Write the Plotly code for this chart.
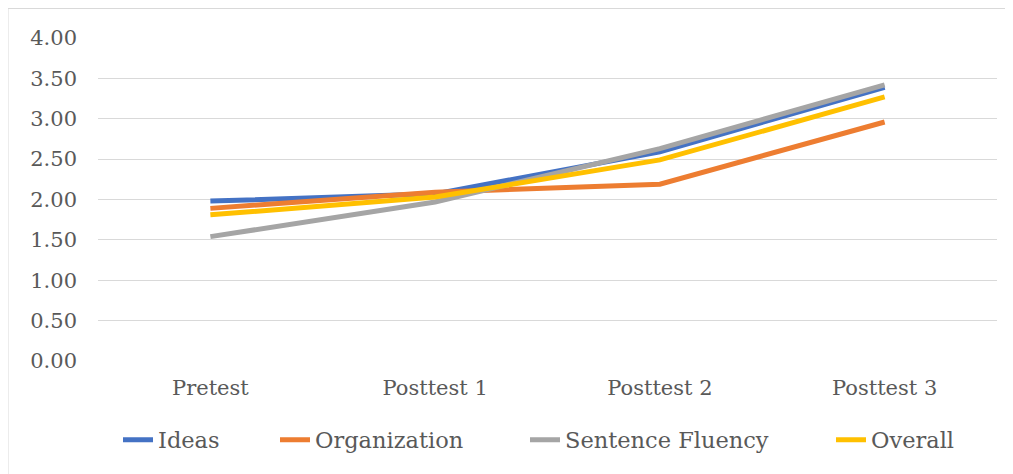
import plotly.graph_objects as go

categories = ["Pretest", "Posttest 1", "Posttest 2", "Posttest 3"]
ideas = [1.98, 2.07, 2.59, 3.39]
organization = [1.89, 2.09, 2.19, 2.96]
sentence_fluency = [1.54, 1.97, 2.63, 3.42]
overall = [1.81, 2.03, 2.49, 3.27]

series = [
    ("Ideas", ideas, "#4472C4"),
    ("Organization", organization, "#ED7D31"),
    ("Sentence Fluency", sentence_fluency, "#A5A5A5"),
    ("Overall", overall, "#FFC000"),
]

FONT = "DejaVu Serif"
FS = 21
LFS = 22.5
TXT = "#595959"
W, H = 1013, 474
# page has an 8px body offset; plot area wanted at page (98..997, 38..361)
OFF = 8
L, R, T, B = 98 - OFF, W - (997 - OFF), 38 - OFF, H - (361 - OFF)
pw = W - L - R
ph = H - T - B

legend_text_start = [158, 315, 565, 871]  # page x where legend labels begin
LEG_Y = 440

fig = go.Figure()
legend_names = ["legend", "legend2", "legend3", "legend4"]
for (name, vals, col), lg in zip(series, legend_names):
    fig.add_trace(go.Scatter(x=categories, y=vals, name=name, mode="lines",
                             line=dict(color=col, width=5), legend=lg))

fig.add_shape(type="rect", xref="paper", yref="paper",
              x0=(8 - OFF - L) / pw, x1=(1006 - OFF - L) / pw,
              y0=(H - B - 490) / ph, y1=(H - B - (8.5 - OFF)) / ph,
              line=dict(color="#D9D9D9", width=1), fillcolor="rgba(0,0,0,0)", layer="below")

legends = {}
for lg, xs in zip(legend_names, legend_text_start):
    legends[lg] = dict(orientation="h", x=(xs - OFF - 40 - L) / pw, xanchor="left",
                       y=(H - B - (LEG_Y - OFF)) / ph, yanchor="middle",
                       font=dict(family=FONT, size=LFS, color=TXT),
                       bgcolor="rgba(0,0,0,0)", itemwidth=30)

fig.update_layout(
    width=W, height=H,
    margin=dict(l=L, r=R, t=T, b=B, autoexpand=False),
    paper_bgcolor="white", plot_bgcolor="white",
    font=dict(family=FONT, size=FS, color=TXT),
    showlegend=True,
    xaxis=dict(range=[-0.5, 3.5], showgrid=False, showline=False, zeroline=False, ticks="",
               tickfont=dict(family=FONT, size=FS, color=TXT), ticklabelstandoff=12,
               automargin=False),
    yaxis=dict(range=[0, 4], dtick=0.5, tickformat=".2f", showgrid=True,
               gridcolor="#D9D9D9", gridwidth=1, zeroline=False, showline=False,
               ticks="", tickfont=dict(family=FONT, size=FS, color=TXT),
               ticklabelstandoff=20, automargin=False),
    **legends,
)

fig.write_html("out.html")
